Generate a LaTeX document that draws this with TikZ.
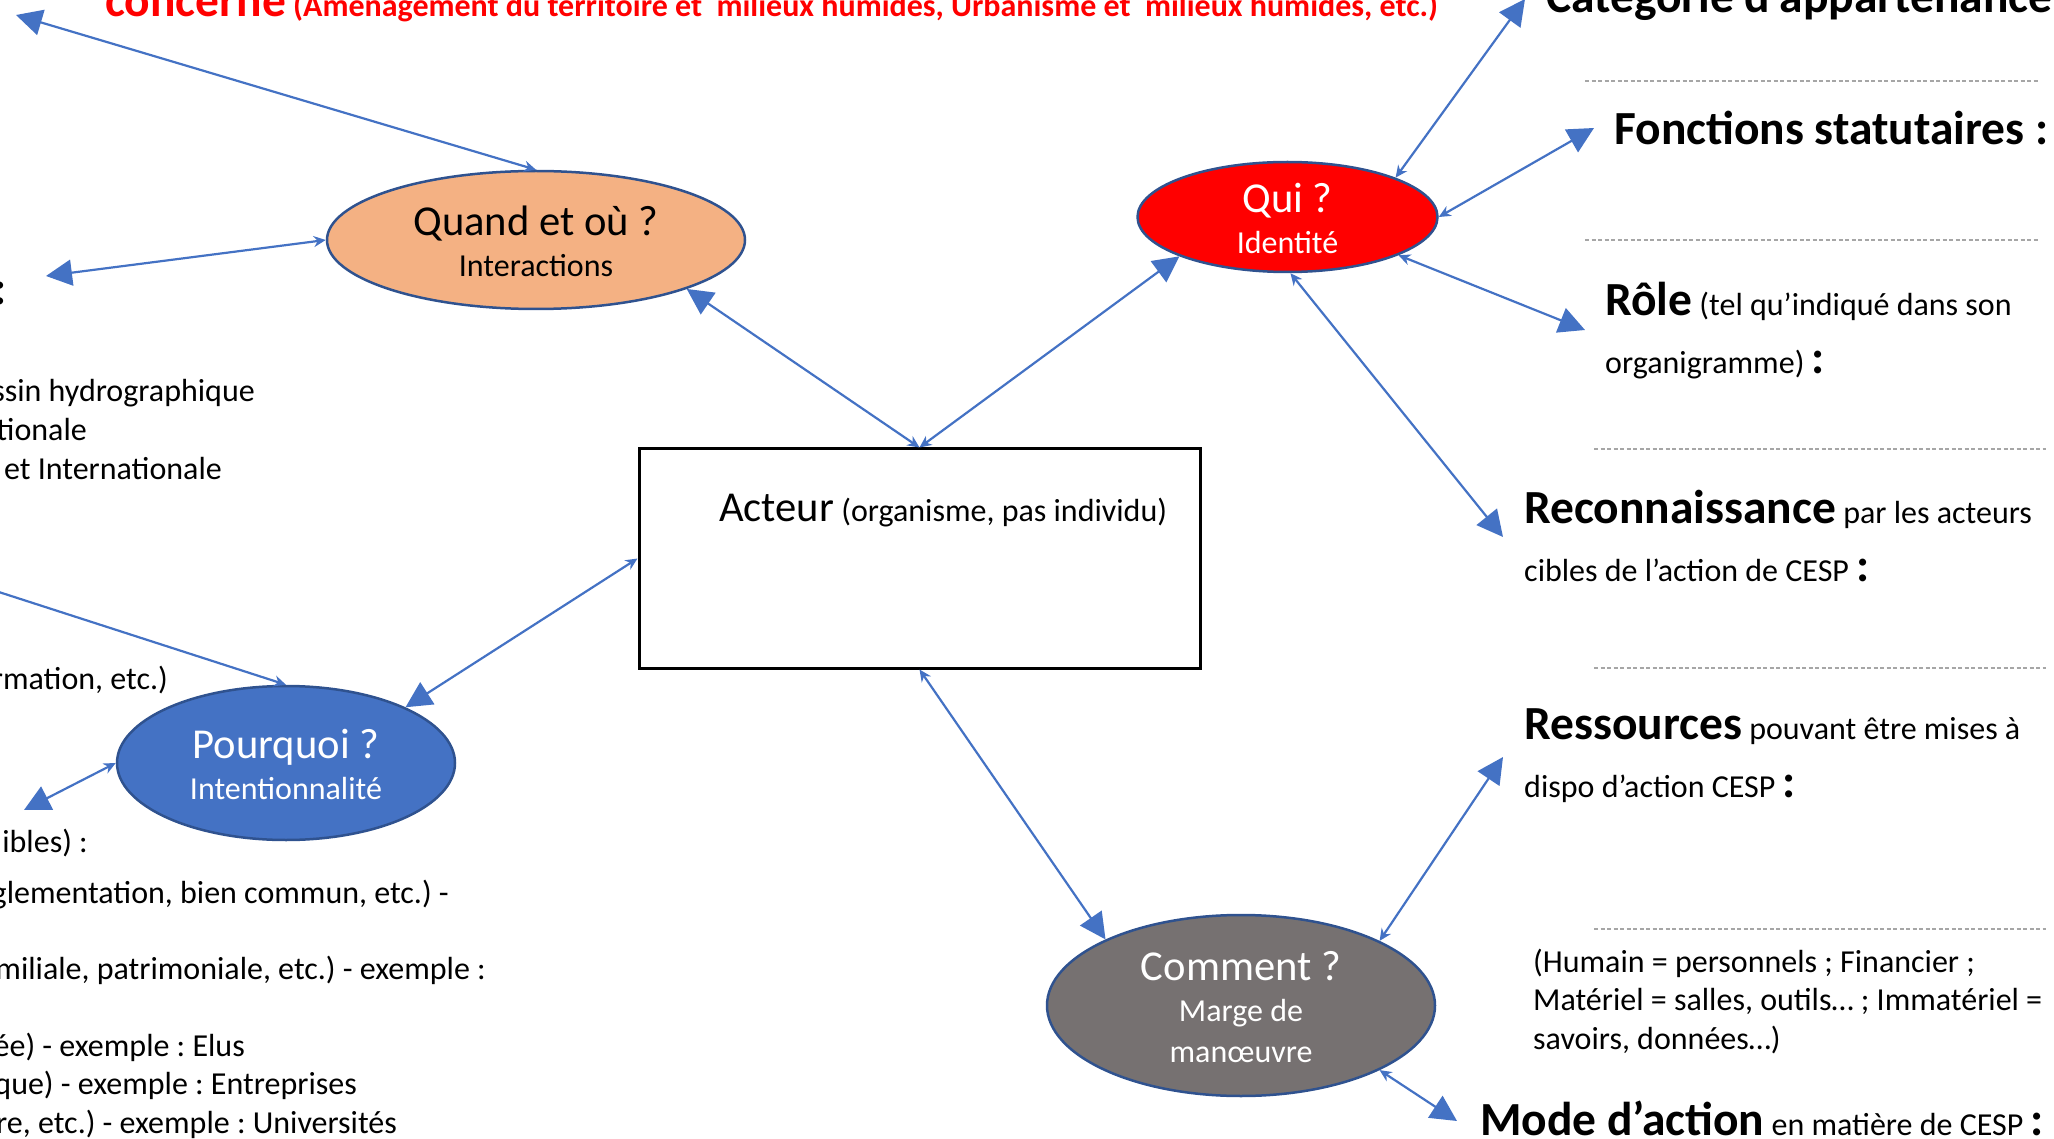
\documentclass[tikz,border=0pt]{standalone}
\usepackage{fontspec}
\setmainfont{Carlito}
\usetikzlibrary{shapes.geometric,arrows.meta}

\definecolor{arrowblue}{HTML}{4472C4}
\definecolor{rimblue}{HTML}{2F528F}
\definecolor{quandorange}{HTML}{F4B183}
\definecolor{commentgray}{HTML}{767171}
\definecolor{titlered}{HTML}{FF0000}
\definecolor{dashgray}{HTML}{A6A6A6}

\newcommand{\bodysize}{\fontsize{32}{41}\selectfont}
\newcommand{\asksize}{\fontsize{42.6}{41}\selectfont}
\newcommand{\headsize}{\fontsize{47.5}{58}\selectfont\bfseries}
\newcommand{\asktitle}[1]{{\asksize\smash{#1}\rule{0pt}{32pt}}}
\frenchspacing

\begin{document}
\begin{tikzpicture}
    [
    x = 1pt, y = -1pt,
    bubble/.style = {ellipse, draw=rimblue, line width=2.5pt, inner sep=0pt, align=center, font=\bodysize},
    link/.style = {arrowblue, line width=2.2pt, {Stealth[length=12pt,width=11pt]}-{Triangle[length=26pt,width=26pt]}},
    ]
    \tikzstyle{side text}=[anchor=base west, inner sep=0pt, font=\bodysize]
    \tikzstyle{cut text}=[anchor=base east, inner sep=0pt, font=\bodysize]
    \tikzstyle{sep line}=[dashgray, line width=1.2pt, dash pattern=on 4pt off 2.5pt]

    \useasboundingbox (0,0) rectangle (2054,1139);
    \clip (0,0) rectangle (2054,1139);

    % centre
    \node[draw, line width=3pt, minimum width=561pt, minimum height=219pt, inner sep=0pt] (acteur) at (919.5,558.5) {};
    \node[side text] (acteurtxt) at (719,521) {{\asksize Acteur} (organisme, pas individu)};

    % les quatre questions
    \node[bubble, fill=quandorange, minimum width=418pt, minimum height=138pt] (quand) at (536,240)
        {\asktitle{Quand et où ?}\\Interactions};
    \node[bubble, fill=red, text=white, minimum width=300pt, minimum height=110pt] (qui) at (1287.5,217)
        {\asktitle{Qui ?}\\Identité};
    \node[bubble, fill=arrowblue, text=white, minimum width=338pt, minimum height=154pt] (pourquoi) at (286,763)
        {\asktitle{Pourquoi ?}\\Intentionnalité};
    \node[bubble, fill=commentgray, text=white, minimum width=388pt, minimum height=181pt] (comment) at (1241,1005.5)
        {\asktitle{Comment ?}\\Marge de\\manœuvre};

    % bouts libres
    \coordinate (domainept) at (16,15);
    \coordinate (echellept) at (46,276);
    \coordinate (categoriept) at (1525,-1);
    \coordinate (fonctionspt) at (1594,128);
    \coordinate (rolept) at (1585,330);
    \coordinate (reconnpt) at (1503,537);
    \coordinate (horschamp) at (-60,573);
    \coordinate (motifspt) at (24,810);
    \coordinate (ressourcespt) at (1503,757);
    \coordinate (modept) at (1457,1121);

    \draw[link] (quand.north) -- (domainept);
    \draw[link] (quand.west) -- (echellept);
    \draw[link] (acteur.north) -- (quand.-18);
    \draw[link] (acteur.north) -- (qui.200);
    \draw[link] (qui.20) -- (categoriept);
    \draw[link] (qui.east) -- (fonctionspt);
    \draw[link] (qui.-19) -- (rolept);
    \draw[link] (qui.-87) -- (reconnpt);
    \draw[link] (acteur.west) -- (pourquoi.25);
    \draw[link] (pourquoi.north) -- (horschamp);
    \draw[link] (pourquoi.west) -- (motifspt);
    \draw[link] (acteur.south) -- (comment.154);
    \draw[link] (comment.25) -- (ressourcespt);
    \draw[link] (comment.-25) -- (modept);

    % haut
    \node[side text, titlered] (concerne) at (105,17)
        {{\headsize concerne} {\bfseries (Aménagement du territoire et\ \ milieux humides, Urbanisme et\ \ milieux humides, etc.)}};
    \node[side text] (categorie) at (1546,13) {\headsize Catégorie d’appartenance};

    % colonne de droite
    \draw[sep line] (1585,81) -- (2038,81);
    \draw[sep line] (1585,240) -- (2038,240);
    \draw[sep line] (1594,449) -- (2046,449);
    \draw[sep line] (1594,668) -- (2046,668);
    \draw[sep line] (1594,929) -- (2046,929);

    \node[side text] (fonctions) at (1614,145) {\headsize Fonctions statutaires :};
    \node[side text] (role1) at (1605,316) {{\headsize Rôle} (tel qu’indiqué dans son};
    \node[side text] (role2) at (1605,374) {organigramme) {\headsize :}};
    \node[side text] (reconn1) at (1524,523) {{\headsize Reconnaissance} par les acteurs};
    \node[side text] (reconn2) at (1524,581) {cibles de l’action de CESP {\headsize :}};
    \node[side text] (ressources1) at (1524,739) {{\headsize Ressources} pouvant être mises à};
    \node[side text] (ressources2) at (1524,797) {dispo d’action CESP {\headsize :}};
    \node[side text] (types1) at (1533,972) {(Humain = personnels ; Financier ;};
    \node[side text] (types2) at (1533,1010) {Matériel = salles, outils… ; Immatériel =};
    \node[side text] (types3) at (1533,1049) {savoirs, données…)};
    \node[side text] (mode) at (1480,1135) {{\headsize Mode d’action} en matière de CESP {\headsize :}};

    % colonne de gauche (coupee)
    \node[cut text] (echelle) at (7,305) {\headsize :};
    \node[cut text] (bassin) at (255,402) {ssin hydrographique};
    \node[cut text] (nationale) at (87,441) {tionale};
    \node[cut text] (internationale) at (222,479) {et Internationale};
    \node[cut text] (formation) at (168,689) {rmation, etc.)};
    \node[cut text] (cibles) at (88,852) {ibles) :};
    \node[cut text] (reglement) at (449,903) {glementation, bien commun, etc.) -};
    \node[cut text] (familiale) at (486,979) {miliale, patrimoniale, etc.) - exemple :};
    \node[cut text] (elus) at (245,1056) {ée) - exemple : Elus};
    \node[cut text] (entreprises) at (357,1094) {que) - exemple : Entreprises};
    \node[cut text] (universites) at (397,1133) {re, etc.) - exemple : Universités};
\end{tikzpicture}
\end{document}
